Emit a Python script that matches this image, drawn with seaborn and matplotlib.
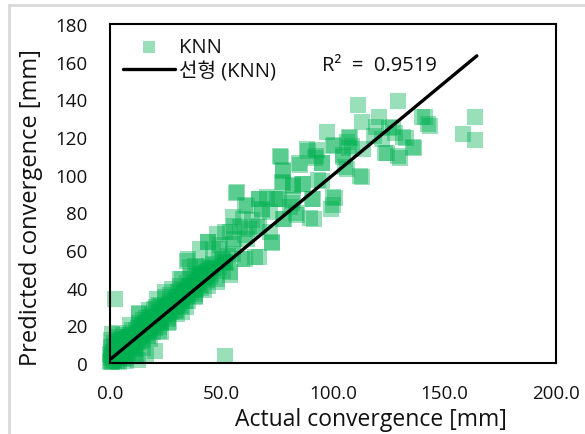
import matplotlib
matplotlib.use("Agg")
import matplotlib.pyplot as plt
from matplotlib.lines import Line2D
import seaborn as sns
import numpy as np
import pandas as pd

# ---- data ----
actual_origin = [0.2, 0.5, 1.0, 1.5, 0.3, 2.0, 0.8, 2.5, 1.2, 3.0,
                 0.4, 3.5, 1.8, 4.2, 2.8, 4.8, 5.5, 0.6, 3.2, 6.0,
                 6.5, 7.2, 5.0, 7.8, 8.5, 9.0, 9.8, 8.0, 10.5, 11.0,
                 1.5, 2.5, 3.5, 4.5, 5.5, 6.5, 7.5, 8.5, 9.5, 10.5,
                 4.0, 7.0, 1.0, 3.5, 11.5, 12.5, 16.0, 20.0, 2.2, 0.1]
pred_origin = [0.3, 1.0, 0.4, 1.8, 2.5, 0.8, 4.0, 3.0, 6.0, 1.2,
               8.5, 5.0, 10.5, 2.5, 8.0, 7.0, 3.8, 12.0, 11.5, 9.5,
               5.5, 2.8, 12.5, 8.0, 11.5, 5.5, 9.0, 14.0, 12.5, 8.5,
               3.5, 5.5, 3.5, 5.0, 6.5, 7.5, 10.0, 8.5, 11.0, 10.0,
               0.5, 0.8, 15.5, 16.0, 4.5, 1.5, 4.0, 6.5, 34.0, 5.0]

actual_dense = [0.5, 1.0, 1.5, 2.0, 2.5, 3.0, 3.5, 4.0, 4.5, 5.0,
                5.5, 6.0, 6.5, 7.0, 7.5, 8.0, 8.5, 9.0, 9.5, 10.0,
                10.5, 11.0, 11.5, 12.0, 12.5, 13.0, 13.5, 14.0, 14.5, 15.0,
                15.5, 16.0, 16.5, 17.0, 17.5, 18.0, 18.5, 19.0, 19.5, 20.0,
                21.0, 22.0, 23.0, 24.0, 25.0, 26.0, 27.0, 28.0, 29.0, 30.0,
                31.0, 32.0, 33.0, 34.0, 35.0, 36.0, 37.0, 38.0, 39.0, 40.0,
                41.0, 42.0, 43.0, 44.0, 45.0, 5.0, 8.0, 11.0, 14.0, 17.0,
                20.0, 23.0, 26.0, 29.0, 32.0, 35.0, 38.0, 41.0, 3.0, 6.0]
pred_dense = [4.5, 7.0, 6.0, 9.0, 7.5, 10.0, 8.0, 11.0, 9.5, 11.0,
              10.0, 12.5, 10.5, 13.0, 12.0, 10.5, 14.0, 12.5, 15.0, 14.0,
              16.0, 14.5, 17.5, 16.0, 18.5, 16.5, 19.0, 17.0, 20.0, 18.0,
              21.0, 19.5, 22.0, 20.0, 23.0, 21.5, 24.0, 22.5, 25.0, 23.5,
              25.0, 26.0, 27.0, 28.5, 29.5, 30.5, 31.5, 33.0, 33.5, 35.0,
              35.5, 37.0, 37.5, 39.0, 39.5, 41.0, 41.5, 43.0, 44.0, 45.0,
              46.0, 47.0, 48.5, 49.0, 50.0, 3.5, 5.0, 7.5, 11.5, 15.0,
              18.5, 21.5, 24.5, 27.5, 30.5, 33.0, 36.5, 40.0, 14.0, 2.0]

actual_band = [11.8, 12.5, 10.0, 13.2, 14.0, 14.8, 15.5, 13.0, 16.2, 17.0,
               17.8, 16.0, 18.5, 19.2, 20.0, 19.0, 21.0, 21.8, 22.5, 23.0,
               24.0, 22.0, 25.0, 25.8, 26.5, 27.2, 28.0, 27.0, 29.0, 29.5,
               30.5, 31.0, 32.0, 31.5, 33.0, 33.5, 34.5, 35.0, 36.0, 36.5,
               37.5, 38.0, 39.0, 40.0, 41.0, 41.5, 42.5, 43.5, 44.5, 45.5,
               11.5, 12.5, 13.5, 14.5, 15.5, 16.5, 17.5, 18.5, 19.5, 20.5,
               21.5, 22.5, 23.5, 24.5, 25.5, 26.5, 27.5, 28.5, 29.5, 30.5,
               31.5, 32.5, 33.5, 34.5, 35.5, 36.5, 37.5, 38.5, 39.5, 40.5,
               42.0, 43.0, 44.0, 46.0, 47.5, 49.0, 50.0, 52.0, 53.0, 9.0,
               6.0, 15.0, 18.0, 22.0, 26.0, 30.0, 34.0, 38.0, 42.0, 11.0,
               13.0, 17.5, 24.5, 20.5, 12.9, 14.6, 18.0, 21.3, 26.3, 23.0,
               21.3, 23.0, 19.6, 24.7, 32.2, 28.0, 24.7, 29.7, 38.1, 43.9,
               31.4, 35.6, 34.7, 38.1, 41.4, 48.2, 54.0, 44.8, 51.5, 51.5]
pred_band = [15.0, 11.0, 17.5, 14.0, 18.5, 12.0, 16.0, 21.0, 20.0, 14.5,
             18.0, 24.0, 22.5, 16.5, 20.0, 26.0, 24.0, 19.0, 27.0, 22.0,
             25.5, 31.0, 29.0, 23.5, 32.0, 27.0, 30.5, 36.0, 34.0, 28.0,
             37.5, 32.0, 35.5, 41.0, 39.0, 33.0, 42.5, 37.0, 40.5, 46.0,
             43.0, 38.5, 47.0, 42.0, 45.5, 51.0, 48.0, 44.0, 51.5, 47.0,
             13.0, 13.5, 15.5, 15.0, 18.0, 17.0, 20.5, 19.0, 22.5, 21.5,
             24.5, 23.0, 26.5, 26.0, 28.0, 27.5, 30.5, 29.5, 32.5, 31.0,
             34.5, 33.5, 36.5, 35.5, 38.5, 37.5, 40.5, 39.5, 43.0, 41.5,
             45.0, 46.5, 48.5, 50.5, 52.0, 51.0, 54.5, 53.0, 57.0, 20.0,
             15.0, 8.0, 13.0, 17.0, 21.0, 26.0, 30.0, 35.0, 39.0, 3.5,
             26.5, 28.0, 35.0, 30.0, 26.1, 22.6, 24.3, 21.7, 21.7, 16.4,
             34.0, 30.5, 28.7, 27.0, 27.0, 39.3, 37.6, 34.0, 35.8, 41.1,
             44.6, 41.1, 54.3, 51.7, 46.4, 44.6, 48.1, 49.9, 53.4, 3.5]

actual_mid = [32.2, 35.1, 35.9, 40.4, 38.9, 44.8, 40.4, 46.3, 47.8, 50.8,
              53.8, 55.3, 50.8, 46.3, 40.4, 60.5, 65.0, 55.3, 49.3, 44.1,
              72.5, 71.7, 60.5, 47.8, 53.8, 65.8, 58.3, 63.5, 55.3, 77.7,
              89.7, 83.7, 80.7, 71.7, 68.0, 60.5, 82.2, 74.8, 66.8, 56.8,
              43.9, 49.0, 55.7, 61.6, 72.5, 66.6, 59.1, 51.5, 62.4, 66.6,
              51.5, 55.7, 59.6, 56.5, 61.6, 68.3, 66.6, 78.0, 81.7, 75.8,
              83.4, 91.4, 90.9, 99.3, 101.0]
pred_mid = [44.7, 55.4, 51.0, 47.4, 43.0, 45.6, 51.8, 52.7, 43.0, 49.1,
            46.5, 58.0, 55.4, 59.8, 60.7, 55.4, 56.3, 63.4, 62.5, 64.2,
            64.2, 69.6, 67.8, 68.7, 69.6, 72.3, 72.3, 75.8, 77.6, 76.7,
            77.0, 78.4, 82.9, 80.2, 81.1, 83.8, 86.4, 87.3, 87.0, 90.9,
            64.0, 60.5, 65.8, 65.8, 63.6, 56.1, 55.2, 53.4, 71.1, 72.8,
            69.3, 72.8, 76.3, 90.4, 83.4, 81.6, 86.9, 76.3, 85.2, 86.9,
            79.9, 76.7, 86.9, 81.6, 87.4]

actual_high = [82.1, 86.2, 77.5, 95.2, 113.1, 106.1, 77.5, 85.1, 76.7, 95.2,
               92.3, 88.8, 104.3, 108.6, 100.2, 107.7, 121.9, 118.6, 130.0, 124.1,
               136.2, 132.9, 127.8, 125.3, 163.9, 158.2, 163.9, 143.5, 140.1, 97.5,
               112.8, 120.6, 129.2, 111.4, 119.1, 127.1, 107.3, 106.1, 100.4, 107.3,
               113.6, 104.6, 92.7, 88.2, 91.9, 94.9, 84.8, 76.2, 77.4, 77.0,
               82.2, 86.7, 93.4, 100.1, 112.1, 105.4, 123.3, 129.0, 136.0, 131.5,
               70.3, 74.0, 90.4, 100.1, 141.3, 142.7]
pred_high = [94.0, 94.9, 95.7, 96.6, 98.7, 102.8, 101.9, 105.1, 109.3, 106.3,
             109.8, 112.5, 110.7, 115.1, 115.1, 119.5, 118.7, 120.4, 109.0, 111.6,
             114.2, 119.5, 122.2, 124.8, 118.3, 121.5, 130.5, 126.1, 130.6, 122.5,
             127.8, 130.6, 138.9, 137.2, 125.5, 125.5, 120.1, 117.5, 115.7, 113.9,
             113.4, 109.5, 113.0, 113.6, 108.6, 106.0, 106.0, 109.9, 102.4, 96.2,
             94.4, 95.3, 97.1, 88.2, 99.2, 104.2, 111.3, 109.9, 114.9, 120.1,
             88.2, 87.3, 87.3, 83.8, 130.8, 126.7]

trend_x = [0.5, 164.5]
trend_y = [2.3, 163.1]
r2_value = 0.9519

x_ticks = [0, 50, 100, 150, 200]
y_ticks = [0, 20, 40, 60, 80, 100, 120, 140, 160, 180]

# ---- build frame ----
df = pd.DataFrame({
    "actual": actual_origin + actual_dense + actual_band + actual_mid + actual_high,
    "predicted": pred_origin + pred_dense + pred_band + pred_mid + pred_high,
})

sns.set_theme(style="white")
plt.rcParams["font.family"] = ["Open Sans", "Noto Sans CJK KR", "DejaVu Sans"]

fig = plt.figure(figsize=(5.85, 4.35), dpi=100)
ax = fig.add_axes([110 / 585, 1 - 364 / 435, (556 - 110) / 585, (364 - 25) / 435])

green = "#00B050"
sns.scatterplot(data=df, x="actual", y="predicted", ax=ax, marker="s", s=125,
                color=green, alpha=0.4, linewidth=0, label="KNN", clip_on=False,
                zorder=2)
sns.lineplot(x=trend_x, y=trend_y, ax=ax, color="black", linewidth=2.4,
             label="선형 (KNN)", zorder=3)

ax.set_xlim(0, 200)
ax.set_ylim(0, 180)
ax.set_xticks(x_ticks)
ax.set_xticklabels([f"{v:.1f}" for v in x_ticks])
ax.set_yticks(y_ticks)
ax.set_yticklabels([str(v) for v in y_ticks])
ax.tick_params(axis="both", length=0, labelsize=13.5, colors="#111111")
ax.tick_params(axis="x", pad=15)
ax.tick_params(axis="y", pad=16)

for sp in ax.spines.values():
    sp.set_visible(True)
    sp.set_color("black")
    sp.set_linewidth(1.5)

ax.set_xlabel("Actual convergence [mm]", fontsize=16.5, color="#111111")
ax.set_ylabel("Predicted convergence [mm]", fontsize=17, color="#111111")
ax.xaxis.set_label_coords(0.584, -0.13)
ax.yaxis.set_label_coords(-0.15, 0.46)

ax.text(95, 158, f"R²  =  {r2_value}", fontsize=14.5, ha="left", va="center",
        color="#111111")

leg = ax.legend(loc="upper left", bbox_to_anchor=(0.0, 1.0), frameon=False,
                fontsize=14.5, handlelength=2.6, handletextpad=0.2,
                labelspacing=0.2, borderaxespad=0.25, markerscale=0.8)
for t in leg.get_texts():
    t.set_color("#111111")

# light grey outer frame (top and left edges visible in reference)
fig.add_artist(Line2D([9 / 585, 9 / 585], [0, 1 - 6 / 435], transform=fig.transFigure,
                      color="#D9D9D9", linewidth=2))
fig.add_artist(Line2D([9 / 585, 1], [1 - 6 / 435, 1 - 6 / 435], transform=fig.transFigure,
                      color="#D9D9D9", linewidth=2))

fig.savefig("out.png", dpi=100, facecolor="white")
